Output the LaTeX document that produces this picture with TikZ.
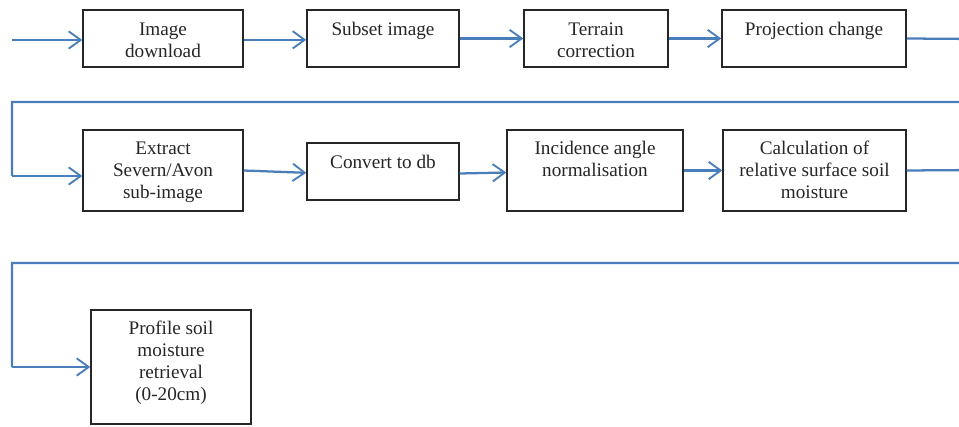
\documentclass[tikz,border=0pt]{standalone}
\usepackage{fontspec}
\setmainfont{Liberation Serif}
\usetikzlibrary{arrows.meta,fit}
\definecolor{flowblue}{HTML}{4A7EBB}
\definecolor{txtgray}{HTML}{262626}
\tikzset{
  box/.style={draw=black!85, line width=1.1pt, inner sep=0pt, fill=white},
  txt/.style={anchor=north, align=center, inner sep=0pt, text=txtgray,
    font=\fontsize{14.4pt}{16.5pt}\selectfont},
  flow/.style={draw=flowblue, line width=1.7pt,
    -{Straight Barb[length=9pt,width=13pt,line width=1.4pt]}},
  flowline/.style={draw=flowblue, line width=1.7pt},
}
\newcommand{\tgap}{7.8pt}
\begin{document}
\begin{tikzpicture}[x=0.75pt,y=-0.75pt]
\clip (0,0) rectangle (959,427);
\useasboundingbox (0,0) rectangle (959,427);
% row 1
\node[box, fit={(83,10)(243,67)}] (b1) {};
\node[box, fit={(307,10)(459,67)}] (b2) {};
\node[box, fit={(524,10)(668,67)}] (b3) {};
\node[box, fit={(722,10)(906,67)}] (b4) {};
% row 2
\node[box, fit={(83,130)(243,211)}] (b5) {};
\node[box, fit={(307,143)(459,200)}] (b6) {};
\node[box, fit={(507,130)(683,211)}] (b7) {};
\node[box, fit={(723,130)(906,211)}] (b8) {};
% row 3
\node[box, fit={(91,310)(251,424)}] (b9) {};
% texts
\node[txt] (t1) at ([yshift=-\tgap]b1.north) {\strut Image\\download};
\node[txt] (t2) at ([yshift=-\tgap]b2.north) {\strut Subset image};
\node[txt] (t3) at ([yshift=-\tgap]b3.north) {\strut Terrain\\correction};
\node[txt] (t4) at ([yshift=-\tgap]b4.north) {\strut Projection change};
\node[txt] (t5) at ([yshift=-\tgap+0.6pt]b5.north) {\strut Extract\\Severn/Avon\\sub-image};
\node[txt] (t6) at ([yshift=-\tgap]b6.north) {\strut Convert to db};
\node[txt] (t7) at ([yshift=-\tgap+0.6pt]b7.north) {\strut Incidence angle\\normalisation};
\node[txt] (t8) at ([yshift=-\tgap+0.6pt]b8.north) {\strut Calculation of\\relative surface soil\\moisture};
\node[txt] (t9) at ([yshift=-\tgap+0.6pt]b9.north) {\strut Profile soil\\moisture\\retrieval\\(0-20cm)};
% coordinates for connectors
\coordinate (in) at (12,40);
\coordinate (r1a) at (975,39);
\coordinate (r1b) at (975,102);
\coordinate (l1a) at (12,102);
\coordinate (l1b) at (12,176);
\coordinate (r2a) at (975,170);
\coordinate (r2b) at (975,263);
\coordinate (l2a) at (12,263);
\coordinate (l2b) at (12,367);
% connectors
\draw[flow] (in) -- (in -| b1.west);
\draw[flow] ([yshift=-1pt]b1.east) -- ([yshift=-1pt]b2.west);
\draw[flow] (b2.east) -- (b3.west);
\draw[flow] (b3.east) -- (b4.west);
\draw[flowline] (b4.east) -- (r1a) -- (r1b) -- (l1a) -- (l1b);
\draw[flow] (l1b) -- (l1b -| b5.west);
\draw[flow] (b5.east) -- ([yshift=-1pt]b6.west);
\draw[flow] ([yshift=-1.5pt]b6.east) -- ([yshift=-1.5pt]b7.west);
\draw[flow] (b7.east) -- (b8.west);
\draw[flowline] (b8.east) -- (r2a) -- (r2b) -- (l2a) -- (l2b);
\draw[flow] (l2b) -- (l2b -| b9.west);
\end{tikzpicture}
\end{document}
